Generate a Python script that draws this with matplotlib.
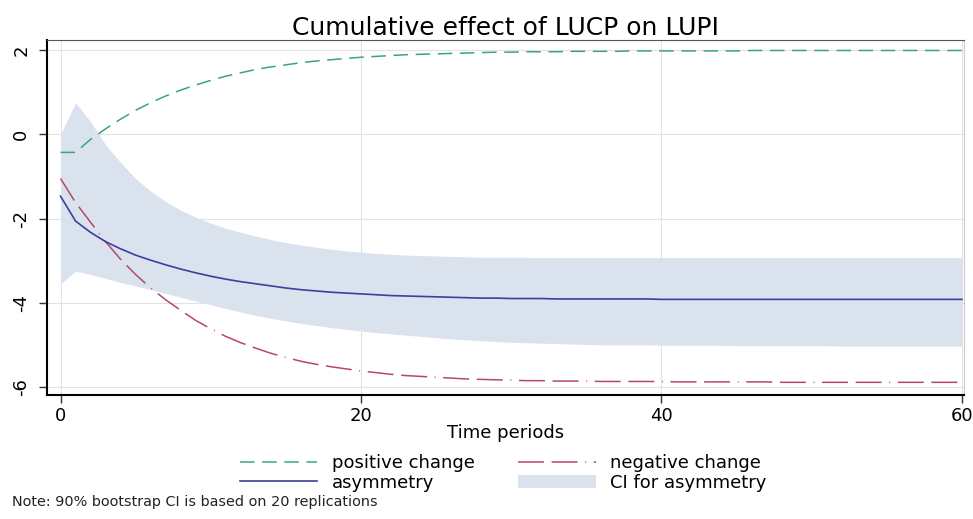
import numpy as np
import matplotlib.pyplot as plt
from matplotlib.patches import Patch
from matplotlib.lines import Line2D

plt.rcParams['font.family'] = ['DejaVu Sans']
plt.rcParams['axes.unicode_minus'] = False

periods = np.arange(0, 61)

positive = [-0.43, -0.43, -0.12, 0.13, 0.36, 0.57, 0.75, 0.91, 1.05, 1.17,
            1.28, 1.38, 1.46, 1.54, 1.60, 1.65, 1.70, 1.74, 1.77, 1.80,
            1.83, 1.85, 1.87, 1.89, 1.90, 1.91, 1.92, 1.93, 1.94, 1.95,
            1.95, 1.96, 1.96, 1.96, 1.97, 1.97, 1.97, 1.97, 1.98, 1.98,
            1.98, 1.98, 1.98, 1.98, 1.98, 1.98, 1.99, 1.99, 1.99, 1.99,
            1.99, 1.99, 1.99, 1.99, 1.99, 1.99, 1.99, 1.99, 1.99, 1.99,
            1.99]

negative = [-1.05, -1.62, -2.09, -2.55, -2.97, -3.33, -3.65, -3.93, -4.18, -4.42,
            -4.62, -4.80, -4.95, -5.08, -5.20, -5.30, -5.39, -5.46, -5.52, -5.57,
            -5.62, -5.66, -5.70, -5.73, -5.75, -5.77, -5.79, -5.81, -5.82, -5.83,
            -5.84, -5.85, -5.85, -5.86, -5.86, -5.86, -5.87, -5.87, -5.87, -5.87,
            -5.87, -5.88, -5.88, -5.88, -5.88, -5.88, -5.88, -5.88, -5.89, -5.89,
            -5.89, -5.89, -5.89, -5.89, -5.89, -5.89, -5.89, -5.89, -5.89, -5.89,
            -5.89]

asymmetry = [-1.47, -2.06, -2.33, -2.55, -2.72, -2.87, -2.99, -3.10, -3.20, -3.29,
             -3.37, -3.44, -3.50, -3.55, -3.60, -3.65, -3.69, -3.72, -3.75, -3.77,
             -3.79, -3.81, -3.83, -3.84, -3.85, -3.86, -3.87, -3.88, -3.89, -3.89,
             -3.90, -3.90, -3.90, -3.91, -3.91, -3.91, -3.91, -3.91, -3.91, -3.91,
             -3.92, -3.92, -3.92, -3.92, -3.92, -3.92, -3.92, -3.92, -3.92, -3.92,
             -3.92, -3.92, -3.92, -3.92, -3.92, -3.92, -3.92, -3.92, -3.92, -3.92,
             -3.92]

ci_upper = [0.00, 0.75, 0.30, -0.25, -0.67, -1.05, -1.35, -1.60, -1.80, -1.97,
            -2.11, -2.23, -2.33, -2.42, -2.50, -2.57, -2.63, -2.68, -2.73, -2.77,
            -2.80, -2.83, -2.85, -2.87, -2.88, -2.89, -2.90, -2.91, -2.92, -2.92,
            -2.92, -2.92, -2.93, -2.93, -2.93, -2.93, -2.93, -2.93, -2.93, -2.93,
            -2.93, -2.93, -2.93, -2.93, -2.93, -2.93, -2.93, -2.93, -2.93, -2.93,
            -2.93, -2.93, -2.93, -2.93, -2.93, -2.93, -2.93, -2.93, -2.93, -2.93,
            -2.93]

ci_lower = [-3.55, -3.25, -3.33, -3.42, -3.52, -3.60, -3.69, -3.78, -3.87, -3.96,
            -4.05, -4.14, -4.22, -4.30, -4.37, -4.43, -4.49, -4.54, -4.59, -4.63,
            -4.67, -4.71, -4.74, -4.77, -4.80, -4.83, -4.86, -4.88, -4.90, -4.92,
            -4.94, -4.95, -4.96, -4.97, -4.98, -4.99, -5.00, -5.00, -5.00, -5.00,
            -5.01, -5.01, -5.01, -5.01, -5.01, -5.02, -5.02, -5.02, -5.02, -5.02,
            -5.02, -5.02, -5.03, -5.03, -5.03, -5.03, -5.03, -5.03, -5.03, -5.03,
            -5.03]

c_pos = '#3aa57a'
c_neg = '#b5476a'
c_asy = '#3c3f9c'
c_ci = '#dae2ee'
dash_pos = (9.5, 5)
dash_neg = (17, 5, 17, 5, 0.6, 5)

fig = plt.figure(figsize=(9.73, 5.19), dpi=100)
ax = fig.add_axes([0.0483, 0.239, 0.9427, 0.684])

ax.fill_between(periods, ci_lower, ci_upper, color=c_ci, lw=0, zorder=1)
ax.plot(periods, positive, color=c_pos, lw=1.1, dashes=dash_pos, zorder=3)
ax.plot(periods, negative, color=c_neg, lw=1.1, dashes=dash_neg, zorder=3)
ax.plot(periods, asymmetry, color=c_asy, lw=1.2, zorder=4)

ax.set_xlim(-0.9, 60.15)
ax.set_ylim(-6.19, 2.24)
ax.set_xticks([0, 20, 40, 60])
ax.set_yticks([-6, -4, -2, 0, 2])
ax.grid(True, color='#e2e2e2', lw=0.8, zorder=0)
ax.set_axisbelow(True)

for lab in ax.get_yticklabels():
    lab.set_rotation(90)
    lab.set_va('center')
ax.tick_params(axis='both', labelsize=13, length=6, width=1, color='#333333')
ax.tick_params(axis='y', pad=6)
ax.tick_params(axis='x', pad=3)

ax.spines['left'].set_linewidth(1.5)
ax.spines['bottom'].set_linewidth(1.5)
ax.spines['top'].set_color('#555555')
ax.spines['right'].set_color('#cccccc')

ax.set_xlabel('Time periods', fontsize=13, labelpad=-1)
ax.set_title('Cumulative effect of LUCP on LUPI', fontsize=18, pad=3)

handles = [
    Line2D([], [], color=c_pos, lw=1.1, dashes=dash_pos),
    Line2D([], [], color=c_asy, lw=1.2),
    Line2D([], [], color=c_neg, lw=1.1, dashes=dash_neg),
    Patch(facecolor=c_ci, edgecolor='none'),
]
labels = ['positive change', 'asymmetry', 'negative change', 'CI for asymmetry']
fig.legend(handles, labels, ncol=2, loc='center', bbox_to_anchor=(0.517, 0.089),
           frameon=False, fontsize=13, handlelength=4.3, columnspacing=2.4,
           handletextpad=0.8, labelspacing=0.1, borderpad=0.2)

fig.text(0.012, 0.025, 'Note: 90% bootstrap CI is based on 20 replications', fontsize=10.4,
         color='#222222')

fig.savefig('out.png', dpi=100)
